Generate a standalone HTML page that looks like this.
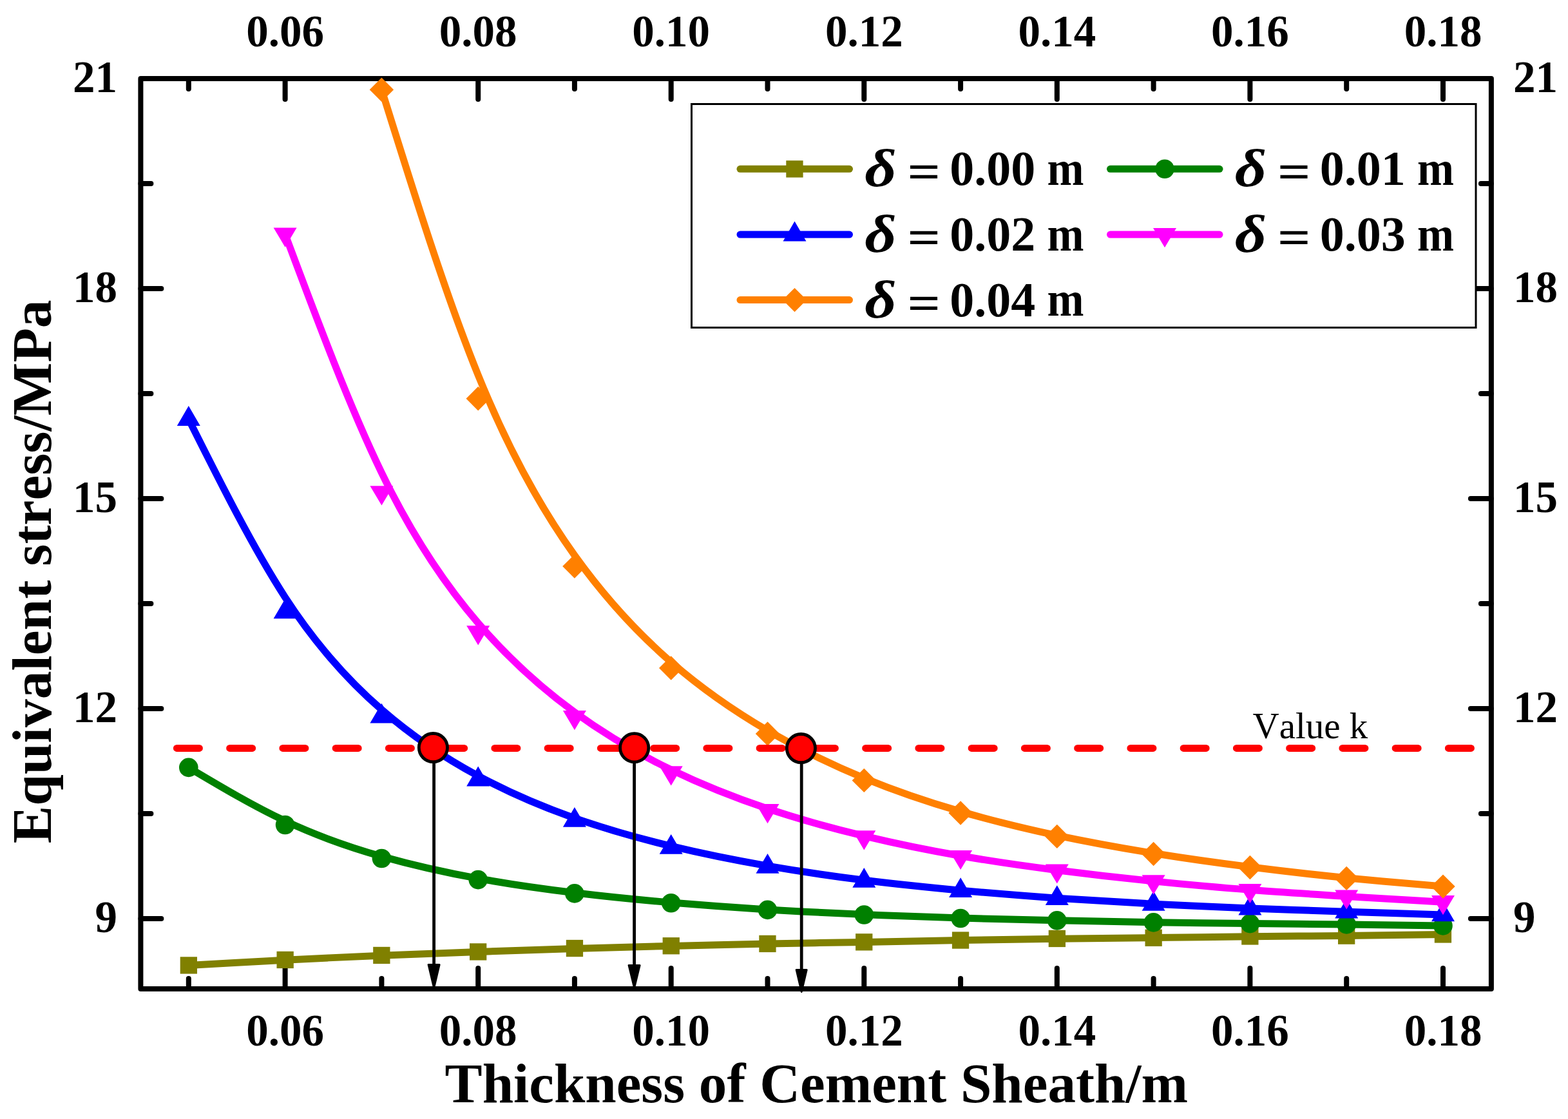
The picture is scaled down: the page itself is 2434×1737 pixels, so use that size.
<!DOCTYPE html>
<html><head><meta charset="utf-8"><title>Equivalent stress vs thickness of cement sheath</title>
<style>html,body{margin:0;padding:0;background:#fff;}svg{display:block;}
text{font-kerning:none;font-feature-settings:"kern" 0;}
.t{font-family:"Liberation Serif","Times New Roman",serif;font-weight:bold;}
</style></head><body>
<svg width="2434" height="1737" viewBox="0 0 2434 1737">
<rect width="2434" height="1737" fill="#fff"/>
<rect x="218.4" y="122" width="2096.5" height="1412.9" fill="none" stroke="#000" stroke-width="8" stroke-linejoin="round"/>
<path d="M292.8 1534.9V1518.9M292.8 122V138M442.6 1534.9V1502.9M442.6 122V154M592.4 1534.9V1518.9M592.4 122V138M742.2 1534.9V1502.9M742.2 122V154M891.9 1534.9V1518.9M891.9 122V138M1041.7 1534.9V1502.9M1041.7 122V154M1191.5 1534.9V1518.9M1191.5 122V138M1341.3 1534.9V1502.9M1341.3 122V154M1491.1 1534.9V1518.9M1491.1 122V138M1640.8 1534.9V1502.9M1640.8 122V154M1790.6 1534.9V1518.9M1790.6 122V138M1940.4 1534.9V1502.9M1940.4 122V154M2090.2 1534.9V1518.9M2090.2 122V138M2240 1534.9V1502.9M2240 122V154M218.4 1425.9H250.4M2314.9 1425.9H2282.9M218.4 1262.9H234.4M2314.9 1262.9H2298.9M218.4 1099.9H250.4M2314.9 1099.9H2282.9M218.4 936.9H234.4M2314.9 936.9H2298.9M218.4 773.9H250.4M2314.9 773.9H2282.9M218.4 611H234.4M2314.9 611H2298.9M218.4 448H250.4M2314.9 448H2282.9M218.4 285H234.4M2314.9 285H2298.9" stroke="#000" stroke-width="8" stroke-linecap="round" fill="none"/>
<path d="M292.8 1498.5C342.7 1495.7 392.7 1492.8 442.6 1490.2C492.5 1487.7 542.5 1485.3 592.4 1483.2C642.3 1481.2 692.2 1479.3 742.2 1477.5C792.1 1475.7 842 1473.9 891.9 1472.4C941.9 1470.8 991.8 1469.6 1041.7 1468.4C1091.6 1467.2 1141.6 1466 1191.5 1465.1C1241.4 1464.1 1291.4 1463.2 1341.3 1462.4C1391.2 1461.5 1441.1 1460.5 1491.1 1459.6C1541 1458.7 1590.9 1457.8 1640.8 1457.2C1690.8 1456.5 1740.7 1456.2 1790.6 1455.6C1840.5 1455 1890.5 1454.3 1940.4 1453.8C1990.3 1453.2 2040.3 1453 2090.2 1452.5C2140.1 1452 2190 1451.2 2240 1450.5" fill="none" stroke="#808000" stroke-width="11" stroke-linejoin="round" stroke-linecap="round"/>
<rect x="279.7" y="1485.3" width="26.3" height="26.3" fill="#808000"/>
<rect x="429.5" y="1476.8" width="26.3" height="26.3" fill="#808000"/>
<rect x="579.2" y="1469.8" width="26.3" height="26.3" fill="#808000"/>
<rect x="729" y="1464.3" width="26.3" height="26.3" fill="#808000"/>
<rect x="878.8" y="1458.9" width="26.3" height="26.3" fill="#808000"/>
<rect x="1028.6" y="1455.1" width="26.3" height="26.3" fill="#808000"/>
<rect x="1178.3" y="1451.8" width="26.3" height="26.3" fill="#808000"/>
<rect x="1328.1" y="1449.2" width="26.3" height="26.3" fill="#808000"/>
<rect x="1477.9" y="1446.4" width="26.3" height="26.3" fill="#808000"/>
<rect x="1627.7" y="1443.8" width="26.3" height="26.3" fill="#808000"/>
<rect x="1777.5" y="1442.6" width="26.3" height="26.3" fill="#808000"/>
<rect x="1927.2" y="1440.3" width="26.3" height="26.3" fill="#808000"/>
<rect x="2077" y="1439.5" width="26.3" height="26.3" fill="#808000"/>
<rect x="2226.8" y="1437.3" width="26.3" height="26.3" fill="#808000"/>
<path d="M292.8 1191.4C342.7 1221.1 392.7 1250.8 442.6 1274.3C492.5 1297.8 542.5 1315.2 592.4 1329.4C642.3 1343.5 692.2 1354.6 742.2 1363.6C792.1 1372.7 842 1379.8 891.9 1385.8C941.9 1391.9 991.8 1396.8 1041.7 1401.1C1091.6 1405.3 1141.6 1408.9 1191.5 1411.9C1241.4 1414.9 1291.4 1417.5 1341.3 1419.6C1391.2 1421.8 1441.1 1423.7 1491.1 1425.1C1541 1426.6 1590.9 1427.8 1640.8 1428.8C1690.8 1429.9 1740.7 1430.9 1790.6 1431.7C1840.5 1432.5 1890.5 1433 1940.4 1433.5C1990.3 1434 2040.3 1434.5 2090.2 1435C2140.1 1435.6 2190 1436.2 2240 1436.9" fill="none" stroke="#008000" stroke-width="11" stroke-linejoin="round" stroke-linecap="round"/>
<circle cx="292.8" cy="1191.4" r="14.8" fill="#008000"/>
<circle cx="442.6" cy="1280.5" r="14.8" fill="#008000"/>
<circle cx="592.4" cy="1332.5" r="14.8" fill="#008000"/>
<circle cx="742.2" cy="1365.6" r="14.8" fill="#008000"/>
<circle cx="891.9" cy="1386.9" r="14.8" fill="#008000"/>
<circle cx="1041.7" cy="1401.8" r="14.8" fill="#008000"/>
<circle cx="1191.5" cy="1412.4" r="14.8" fill="#008000"/>
<circle cx="1341.3" cy="1420" r="14.8" fill="#008000"/>
<circle cx="1491.1" cy="1425.5" r="14.8" fill="#008000"/>
<circle cx="1640.8" cy="1428.9" r="14.8" fill="#008000"/>
<circle cx="1790.6" cy="1431.9" r="14.8" fill="#008000"/>
<circle cx="1940.4" cy="1433.6" r="14.8" fill="#008000"/>
<circle cx="2090.2" cy="1434.9" r="14.8" fill="#008000"/>
<circle cx="2240" cy="1436.9" r="14.8" fill="#008000"/>
<path d="M292.8 650.6C342.7 750.4 392.7 850.2 442.6 927.2C492.5 1004.1 542.5 1058.2 592.4 1101.5C642.3 1144.9 692.2 1177.5 742.2 1204.4C792.1 1231.2 842 1252.3 891.9 1269.9C941.9 1287.4 991.8 1301.4 1041.7 1313.4C1091.6 1325.4 1141.6 1335.4 1191.5 1344.1C1241.4 1352.7 1291.4 1360.1 1341.3 1366.3C1391.2 1372.5 1441.1 1377.6 1491.1 1382.2C1541 1386.7 1590.9 1390.7 1640.8 1394.2C1690.8 1397.6 1740.7 1400.6 1790.6 1403.2C1840.5 1405.8 1890.5 1408 1940.4 1410C1990.3 1412 2040.3 1413.6 2090.2 1415.2C2140.1 1416.8 2190 1418.4 2240 1419.9" fill="none" stroke="#0000FF" stroke-width="11" stroke-linejoin="round" stroke-linecap="round"/>
<polygon points="292.8,630.1 310.8,660.9 274.8,660.9" fill="#0000FF"/>
<polygon points="442.6,929.5 460.6,960.3 424.6,960.3" fill="#0000FF"/>
<polygon points="592.4,1091.8 610.4,1122.6 574.4,1122.6" fill="#0000FF"/>
<polygon points="742.2,1189.6 760.2,1220.4 724.2,1220.4" fill="#0000FF"/>
<polygon points="891.9,1252.9 909.9,1283.7 873.9,1283.7" fill="#0000FF"/>
<polygon points="1041.7,1294.9 1059.7,1325.7 1023.7,1325.7" fill="#0000FF"/>
<polygon points="1191.5,1324.9 1209.5,1355.7 1173.5,1355.7" fill="#0000FF"/>
<polygon points="1341.3,1346.9 1359.3,1377.7 1323.3,1377.7" fill="#0000FF"/>
<polygon points="1491.1,1362.2 1509.1,1393 1473.1,1393" fill="#0000FF"/>
<polygon points="1640.8,1374.2 1658.8,1405 1622.8,1405" fill="#0000FF"/>
<polygon points="1790.6,1383 1808.6,1413.8 1772.6,1413.8" fill="#0000FF"/>
<polygon points="1940.4,1389.8 1958.4,1420.6 1922.4,1420.6" fill="#0000FF"/>
<polygon points="2090.2,1394.8 2108.2,1425.6 2072.2,1425.6" fill="#0000FF"/>
<polygon points="2240,1399.4 2258,1430.2 2222,1430.2" fill="#0000FF"/>
<path d="M442.6 363.6C492.5 497.2 542.5 630.8 592.4 733.8C642.3 836.7 692.2 909 742.2 967.1C792.1 1025.2 842 1069.2 891.9 1105.5C941.9 1141.9 991.8 1170.6 1041.7 1194.8C1091.6 1219 1141.6 1238.6 1191.5 1255.3C1241.4 1271.9 1291.4 1285.7 1341.3 1297.6C1391.2 1309.6 1441.1 1319.8 1491.1 1328.5C1541 1337.2 1590.9 1344.3 1640.8 1350.7C1690.8 1357.1 1740.7 1362.8 1790.6 1367.9C1840.5 1372.9 1890.5 1377.5 1940.4 1381.3C1990.3 1385.2 2040.3 1388.3 2090.2 1391.4C2140.1 1394.4 2190 1397.3 2240 1400.2" fill="none" stroke="#FF00FF" stroke-width="11" stroke-linejoin="round" stroke-linecap="round"/>
<polygon points="442.6,383.7 460.6,353.5 424.6,353.5" fill="#FF00FF"/>
<polygon points="592.4,784.5 610.4,754.3 574.4,754.3" fill="#FF00FF"/>
<polygon points="742.2,1001.4 760.2,971.2 724.2,971.2" fill="#FF00FF"/>
<polygon points="891.9,1133.2 909.9,1103 873.9,1103" fill="#FF00FF"/>
<polygon points="1041.7,1219.5 1059.7,1189.3 1023.7,1189.3" fill="#FF00FF"/>
<polygon points="1191.5,1278.3 1209.5,1248.1 1173.5,1248.1" fill="#FF00FF"/>
<polygon points="1341.3,1319.5 1359.3,1289.3 1323.3,1289.3" fill="#FF00FF"/>
<polygon points="1491.1,1350.1 1509.1,1319.9 1473.1,1319.9" fill="#FF00FF"/>
<polygon points="1640.8,1371.6 1658.8,1341.4 1622.8,1341.4" fill="#FF00FF"/>
<polygon points="1790.6,1388.5 1808.6,1358.3 1772.6,1358.3" fill="#FF00FF"/>
<polygon points="1940.4,1402.1 1958.4,1371.9 1922.4,1371.9" fill="#FF00FF"/>
<polygon points="2090.2,1411.6 2108.2,1381.4 2072.2,1381.4" fill="#FF00FF"/>
<polygon points="2240,1420.3 2258,1390.1 2222,1390.1" fill="#FF00FF"/>
<path d="M592.4 139.2C642.3 299.1 692.2 458.9 742.2 582.2C792.1 705.6 842 792.3 891.9 862C941.9 931.7 991.8 984.4 1041.7 1027.7C1091.6 1071 1141.6 1105 1191.5 1134.1C1241.4 1163.1 1291.4 1187.3 1341.3 1207.8C1391.2 1228.3 1441.1 1245.1 1491.1 1259.6C1541 1274.1 1590.9 1286.3 1640.8 1296.9C1690.8 1307.4 1740.7 1316.5 1790.6 1324.5C1840.5 1332.5 1890.5 1339.5 1940.4 1345.8C1990.3 1352.1 2040.3 1357.8 2090.2 1362.7C2140.1 1367.6 2190 1371.9 2240 1376.1" fill="none" stroke="#FF8000" stroke-width="11" stroke-linejoin="round" stroke-linecap="round"/>
<polygon points="592.4,120.5 611.1,139.2 592.4,157.9 573.7,139.2" fill="#FF8000"/>
<polygon points="742.2,600.1 760.9,618.8 742.2,637.5 723.5,618.8" fill="#FF8000"/>
<polygon points="891.9,860.4 910.6,879.1 891.9,897.8 873.2,879.1" fill="#FF8000"/>
<polygon points="1041.7,1018.3 1060.4,1037 1041.7,1055.7 1023,1037" fill="#FF8000"/>
<polygon points="1191.5,1120.3 1210.2,1139 1191.5,1157.7 1172.8,1139" fill="#FF8000"/>
<polygon points="1341.3,1192.7 1360,1211.4 1341.3,1230.1 1322.6,1211.4" fill="#FF8000"/>
<polygon points="1491.1,1243.3 1509.8,1262 1491.1,1280.7 1472.4,1262" fill="#FF8000"/>
<polygon points="1640.8,1279.7 1659.5,1298.4 1640.8,1317.1 1622.1,1298.4" fill="#FF8000"/>
<polygon points="1790.6,1306.8 1809.3,1325.5 1790.6,1344.2 1771.9,1325.5" fill="#FF8000"/>
<polygon points="1940.4,1327.8 1959.1,1346.5 1940.4,1365.2 1921.7,1346.5" fill="#FF8000"/>
<polygon points="2090.2,1344.7 2108.9,1363.4 2090.2,1382.1 2071.5,1363.4" fill="#FF8000"/>
<polygon points="2240,1357.4 2258.7,1376.1 2240,1394.8 2221.3,1376.1" fill="#FF8000"/>
<line x1="274.4" y1="1161.4" x2="2283.4" y2="1161.4" stroke="#FF0000" stroke-width="11" stroke-linecap="round" stroke-dasharray="35.0 47.25"/>
<line x1="673.6" y1="1160.6" x2="673.6" y2="1499.5" stroke="#000" stroke-width="4.8"/>
<polygon points="665.1,1497.5 682.1,1497.5 673.6,1533.5" fill="#000" stroke="#000" stroke-width="3" stroke-linejoin="round"/>
<line x1="984.6" y1="1160.8" x2="984.6" y2="1500.5" stroke="#000" stroke-width="4.8"/>
<polygon points="976.1,1498.5 993.1,1498.5 984.6,1533.5" fill="#000" stroke="#000" stroke-width="3" stroke-linejoin="round"/>
<line x1="1244.2" y1="1161.6" x2="1244.2" y2="1507.5" stroke="#000" stroke-width="4.8"/>
<polygon points="1236.2,1505.5 1252.2,1505.5 1244.2,1539.5" fill="#000" stroke="#000" stroke-width="3" stroke-linejoin="round"/>
<circle cx="672.4" cy="1160.6" r="22.1" fill="#FF0000" stroke="#000" stroke-width="4.8"/>
<circle cx="984.7" cy="1160.8" r="22.1" fill="#FF0000" stroke="#000" stroke-width="4.8"/>
<circle cx="1243.4" cy="1161.6" r="22.1" fill="#FF0000" stroke="#000" stroke-width="4.8"/>
<g class="t" font-size="69" fill="#000">
<text x="442.6" y="1623.3" text-anchor="middle">0.06</text>
<text x="442.6" y="72.3" text-anchor="middle">0.06</text>
<text x="742.2" y="1623.3" text-anchor="middle">0.08</text>
<text x="742.2" y="72.3" text-anchor="middle">0.08</text>
<text x="1041.7" y="1623.3" text-anchor="middle">0.10</text>
<text x="1041.7" y="72.3" text-anchor="middle">0.10</text>
<text x="1341.3" y="1623.3" text-anchor="middle">0.12</text>
<text x="1341.3" y="72.3" text-anchor="middle">0.12</text>
<text x="1640.8" y="1623.3" text-anchor="middle">0.14</text>
<text x="1640.8" y="72.3" text-anchor="middle">0.14</text>
<text x="1940.4" y="1623.3" text-anchor="middle">0.16</text>
<text x="1940.4" y="72.3" text-anchor="middle">0.16</text>
<text x="2240" y="1623.3" text-anchor="middle">0.18</text>
<text x="2240" y="72.3" text-anchor="middle">0.18</text>
<text x="182" y="1447.1" text-anchor="end">9</text>
<text x="2349" y="1447.1">9</text>
<text x="182" y="1121.1" text-anchor="end">12</text>
<text x="2349" y="1121.1">12</text>
<text x="182" y="795.1" text-anchor="end">15</text>
<text x="2349" y="795.1">15</text>
<text x="182" y="469.2" text-anchor="end">18</text>
<text x="2349" y="469.2">18</text>
<text x="182" y="143.2" text-anchor="end">21</text>
<text x="2349" y="143.2">21</text>
</g>
<text class="t" x="690.6" y="1710.7" font-size="87.05" text-anchor="start">Thickness of Cement Sheath/m</text>
<text class="t" font-size="87.55" transform="translate(78.8 1309.2) rotate(-90)">Equivalent stress/MPa</text>
<text x="1944.5" y="1146.4" font-family="Liberation Serif, Times New Roman, serif" font-size="57" fill="#000">Value k</text>
<rect x="1073.5" y="161.5" width="1217.5" height="347" fill="#fff" stroke="#000" stroke-width="3"/>
<line x1="1149" y1="262.3" x2="1318.5" y2="262.3" stroke="#808000" stroke-width="11" stroke-linecap="round"/>
<rect x="1220.3" y="249.2" width="26.3" height="26.3" fill="#808000"/>
<text class="t" font-style="italic" font-size="83" transform="translate(1342.3 289.2) scale(1.16 1)">δ</text>
<text class="t" font-size="76" transform="translate(1408.4 292.3) scale(1.19 1)">=</text>
<text class="t" font-size="76" x="1474.2" y="287.3">0.00</text>
<text class="t" font-size="76" transform="translate(1625.4 286.9) scale(0.9 1)">m</text>
<line x1="1723.5" y1="262.3" x2="1893" y2="262.3" stroke="#008000" stroke-width="11" stroke-linecap="round"/>
<circle cx="1808" cy="262.3" r="14.8" fill="#008000"/>
<text class="t" font-style="italic" font-size="83" transform="translate(1916.8 289.2) scale(1.16 1)">δ</text>
<text class="t" font-size="76" transform="translate(1982.9 292.3) scale(1.19 1)">=</text>
<text class="t" font-size="76" x="2048.7" y="287.3">0.01</text>
<text class="t" font-size="76" transform="translate(2199.9 286.9) scale(0.9 1)">m</text>
<line x1="1149" y1="364.1" x2="1318.5" y2="364.1" stroke="#0000FF" stroke-width="11" stroke-linecap="round"/>
<polygon points="1233.5,343.6 1251.5,374.4 1215.5,374.4" fill="#0000FF"/>
<text class="t" font-style="italic" font-size="83" transform="translate(1342.3 391) scale(1.16 1)">δ</text>
<text class="t" font-size="76" transform="translate(1408.4 394.1) scale(1.19 1)">=</text>
<text class="t" font-size="76" x="1474.2" y="389.1">0.02</text>
<text class="t" font-size="76" transform="translate(1625.4 388.7) scale(0.9 1)">m</text>
<line x1="1723.5" y1="364.1" x2="1893" y2="364.1" stroke="#FF00FF" stroke-width="11" stroke-linecap="round"/>
<polygon points="1808,384.2 1826,354 1790,354" fill="#FF00FF"/>
<text class="t" font-style="italic" font-size="83" transform="translate(1916.8 391) scale(1.16 1)">δ</text>
<text class="t" font-size="76" transform="translate(1982.9 394.1) scale(1.19 1)">=</text>
<text class="t" font-size="76" x="2048.7" y="389.1">0.03</text>
<text class="t" font-size="76" transform="translate(2199.9 388.7) scale(0.9 1)">m</text>
<line x1="1149" y1="465.6" x2="1318.5" y2="465.6" stroke="#FF8000" stroke-width="11" stroke-linecap="round"/>
<polygon points="1233.5,446.9 1252.2,465.6 1233.5,484.3 1214.8,465.6" fill="#FF8000"/>
<text class="t" font-style="italic" font-size="83" transform="translate(1342.3 492.5) scale(1.16 1)">δ</text>
<text class="t" font-size="76" transform="translate(1408.4 495.6) scale(1.19 1)">=</text>
<text class="t" font-size="76" x="1474.2" y="490.6">0.04</text>
<text class="t" font-size="76" transform="translate(1625.4 490.2) scale(0.9 1)">m</text>
</svg>
</body></html>
